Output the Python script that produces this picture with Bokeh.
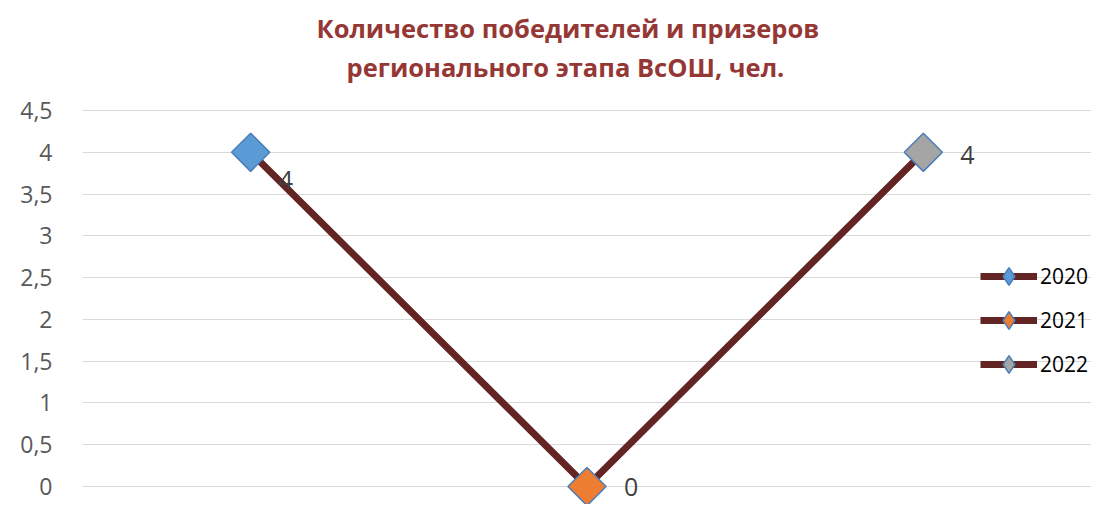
from bokeh.plotting import figure
from bokeh.models import (ColumnDataSource, FactorRange, Range1d, FixedTicker,
                          Legend, LegendItem, Title)
from bokeh.core.properties import value
from bokeh.embed import file_html
from bokeh.resources import INLINE

# ---- data ----
years = ["2020", "2021", "2022"]
counts = [4, 0, 4]
point_colors = ["#5B9BD5", "#ED7D31", "#A5A5A5"]
tick_values = [0, 0.5, 1, 1.5, 2, 2.5, 3, 3.5, 4, 4.5]
tick_labels = ["0", "0,5", "1", "1,5", "2", "2,5", "3", "3,5", "4", "4,5"]
title_lines = ["Количество победителей и призеров", "регионального этапа ВсОШ, чел."]

# label offsets (style)
label_dx = [28, 37, 37]
label_dy = [28, 0, 3]

src = ColumnDataSource(dict(
    year=years, value=counts, color=point_colors,
    label=[str(v) for v in counts], dx=label_dx, dy=label_dy,
))

FONT = "Open Sans"

p = figure(width=1091, height=504, output_backend="svg", toolbar_location=None,
           x_range=FactorRange(factors=years), y_range=Range1d(-0.2154, 4.5598),
           x_axis_location=None, min_border_left=82, min_border_right=0,
           min_border_top=105, min_border_bottom=0)
p.outline_line_color = None
p.background_fill_color = "white"
p.border_fill_color = "white"

p.title.text = title_lines[0]
p.title.align = "left"
p.title.offset = 234
p.title.standoff = -38
p.title.text_font = FONT
p.title.text_font_style = "bold"
p.title.text_font_size = "25.5px"
p.title.text_color = "#953735"

p.add_layout(Title(text=title_lines[1], align="left", offset=264, standoff=44,
                   text_font=FONT, text_font_style="bold", text_font_size="25.5px",
                   text_color="#953735"), "above")

p.xgrid.grid_line_color = None
p.ygrid.grid_line_color = "#D9D9D9"
p.ygrid.grid_line_width = 1
p.ygrid.ticker = FixedTicker(ticks=tick_values)

yax = p.yaxis[0]
yax.ticker = FixedTicker(ticks=tick_values)
yax.major_label_overrides = {t: l for t, l in zip(tick_values, tick_labels)}
yax.axis_line_color = None
yax.major_tick_line_color = None
yax.minor_tick_line_color = None
yax.major_tick_out = 0
yax.major_tick_in = 0
yax.major_label_standoff = 30
yax.major_label_text_font = FONT
yax.major_label_text_font_size = "23px"
yax.major_label_text_color = "#595959"

line_r = p.line(x="year", y="value", source=src, line_width=7, line_color="#632523")
leg_r = p.scatter(x="year", y="value", source=src, marker="diamond", size=36,
                  fill_color="color", line_color="#4A7EBB", line_width=1.5)
sc_r = p.scatter(x="year", y="value", source=src, marker="square", angle=0.785398,
                 size=27, fill_color="color", line_color="#4A7EBB", line_width=1.5)

p.text(x="year", y="value", text="label", source=src, x_offset="dx", y_offset="dy",
       text_align="left", text_baseline="middle", text_font=value(FONT),
       text_font_size="25px", text_color="#404040")

legend = Legend(items=[LegendItem(label=y, renderers=[line_r, leg_r], index=i)
                       for i, y in enumerate(years)],
                location=(898, 118), orientation="vertical",
                glyph_width=57, glyph_height=44, spacing=0, label_standoff=3,
                padding=0, margin=0, border_line_color=None,
                background_fill_alpha=0, label_text_font=FONT,
                label_text_font_size="21px", label_text_color="#000000")
p.add_layout(legend, "center")

open("out.html", "w").write(file_html(p, INLINE))
